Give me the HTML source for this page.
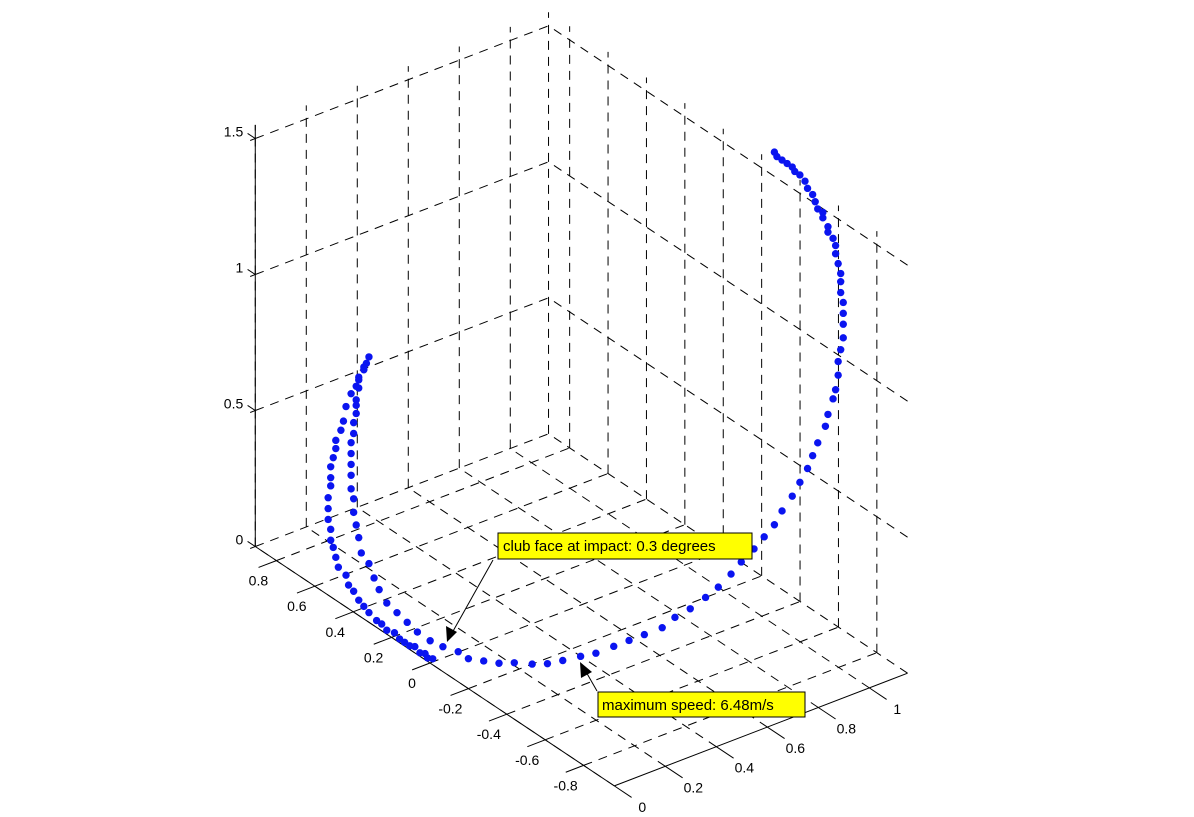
<!DOCTYPE html>
<html><head><meta charset="utf-8"><style>
html,body{margin:0;padding:0;background:#fff;}
svg{display:block;}
text{font-family:"Liberation Sans",Arial,sans-serif;font-size:14px;fill:#000;}
</style></head><body>
<svg id="chart" width="1194" height="817" viewBox="0 0 1194 817" xmlns="http://www.w3.org/2000/svg">
<rect x="0" y="0" width="1194" height="817" fill="#fff"/>
<g id="grid"></g>
<g id="axes"></g>
<g id="marks"></g>
<g id="annot">
  <line x1="493" y1="560" x2="452" y2="633" stroke="#000" stroke-width="1"/>
  <polygon points="447,642 446,626 457,632" fill="#000"/>
  <rect x="498" y="533" width="254" height="26" fill="#ffff00" stroke="#000" stroke-width="1"/>
  <text x="503" y="551" style="font-size:15px">club face at impact: 0.3 degrees</text>
  <line x1="597" y1="691" x2="585" y2="670" stroke="#000" stroke-width="1"/>
  <polygon points="580,662 581,678 592,672" fill="#000"/>
  <rect x="598" y="692" width="207" height="25" fill="#ffff00" stroke="#000" stroke-width="1"/>
  <text x="602" y="710" style="font-size:15px">maximum speed: 6.48m/s</text>
</g>
</svg>
<script>
// data (metres)
const xs = [-0.14,-0.16,-0.17,-0.19,-0.21,-0.23,-0.25,-0.27,-0.29,-0.32,-0.34,-0.36,-0.39,-0.41,-0.43,-0.45,-0.47,-0.48,-0.51,-0.52,-0.53,-0.54,-0.54,-0.55,-0.55,-0.55,-0.54,-0.54,-0.54,-0.53,-0.52,-0.52,-0.50,-0.49,-0.48,-0.46,-0.44,-0.43,-0.41,-0.39,
 -0.40,-0.41,-0.43,-0.43,-0.44,-0.44,-0.44,-0.45,-0.45,-0.46,-0.46,-0.46,-0.46,-0.46,-0.45,-0.45,-0.44,-0.43,-0.42,-0.39,-0.37,-0.35,-0.32,-0.28,-0.24,-0.20,-0.15,-0.10,-0.04,
 0.00,0.06,0.12,0.18,0.25,0.31,0.37,0.44,0.50,0.57,0.63,0.69,0.76,0.81,0.87,0.93,0.98,1.03,1.07,1.12,1.16,1.20,1.23,1.27,1.30,1.33,1.35,1.37,1.40,1.41,1.43,1.44,1.45,1.45,1.46,1.47,1.47,1.47,1.47,1.46,1.46,1.46,1.45,1.44,1.44,1.43,1.41,1.41,1.39,1.39,1.37,1.36,1.35,1.33,1.32,1.30,1.28,1.27,1.25,1.23,1.21,1.20];
const zs = [0.16,0.17,0.19,0.20,0.23,0.24,0.26,0.28,0.31,0.33,0.36,0.38,0.42,0.45,0.48,0.52,0.55,0.59,0.63,0.67,0.71,0.74,0.78,0.82,0.86,0.90,0.94,0.97,1.01,1.04,1.07,1.10,1.13,1.16,1.21,1.25,1.27,1.29,1.32,1.36,
 1.34,1.33,1.30,1.26,1.22,1.20,1.17,1.14,1.10,1.07,1.03,0.99,0.95,0.90,0.86,0.81,0.76,0.71,0.65,0.60,0.54,0.49,0.43,0.38,0.33,0.28,0.23,0.19,0.15,
 0.11,0.08,0.05,0.03,0.00,-0.02,-0.03,-0.04,-0.05,-0.05,-0.05,-0.05,-0.05,-0.03,-0.02,0.00,0.02,0.05,0.08,0.11,0.14,0.17,0.21,0.25,0.29,0.33,0.37,0.41,0.46,0.50,0.55,0.58,0.63,0.68,0.72,0.76,0.81,0.85,0.89,0.93,0.97,1.00,1.04,1.08,1.11,1.14,1.17,1.19,1.23,1.25,1.27,1.30,1.33,1.36,1.39,1.42,1.44,1.46,1.48,1.50,1.52,1.54];
const ys = xs.map(() => -0.2);
const xTicks = [0,0.2,0.4,0.6,0.8,1];
const xTickLabels = ["0","0.2","0.4","0.6","0.8","1"];
const yTicks = [-0.8,-0.6,-0.4,-0.2,0,0.2,0.4,0.6,0.8];
const yTickLabels = ["-0.8","-0.6","-0.4","-0.2","0","0.2","0.4","0.6","0.8"];
const zTicks = [0,0.5,1,1.5];
const zTickLabels = ["0","0.5","1","1.5"];

const XMIN=0, XMAX=1.15, YMIN=-0.96, YMAX=0.91, ZMIN=0, ZMAX=1.55;
const O=[430,663], EX=[255,-98], EY=[-192,-128], EZ=[0,-272];
function px(x,y,z){return O[0]+x*EX[0]+y*EY[0]+z*EZ[0];}
function py(x,y,z){return O[1]+x*EX[1]+y*EY[1]+z*EZ[1];}
const NS="http://www.w3.org/2000/svg";
function seg(parent,a,b,dash,name){
  const l=document.createElementNS(NS,'line');
  l.setAttribute('x1',px(...a));l.setAttribute('y1',py(...a));
  l.setAttribute('x2',px(...b));l.setAttribute('y2',py(...b));
  l.setAttribute('stroke','#000');
  l.setAttribute('stroke-width','1');
  if(dash) l.setAttribute('stroke-dasharray','9,7');
  
  
  parent.appendChild(l);
}
const grid=document.getElementById('grid');
xTicks.forEach(x=>{
  seg(grid,[x,YMIN,0],[x,YMAX,0],true,'floor-gridline-x');
  seg(grid,[x,YMAX,0],[x,YMAX,ZMAX],true,'wall-gridline-x');
});
yTicks.forEach(y=>{
  seg(grid,[0,y,0],[XMAX,y,0],true,'floor-gridline-y');
  seg(grid,[XMAX,y,0],[XMAX,y,ZMAX],true,'wall-gridline-y');
});
seg(grid,[XMAX,YMAX,0],[XMAX,YMAX,ZMAX],true,'wall-corner-line');
zTicks.forEach(z=>{
  seg(grid,[0,YMAX,z],[XMAX,YMAX,z],true,'back-wall-gridline-z');
  seg(grid,[XMAX,YMIN,z],[XMAX,YMAX,z],true,'right-wall-gridline-z');
});
const axes=document.getElementById('axes');
seg(axes,[0,YMAX,0],[0,YMAX,ZMAX],false,'z-axis-line');
seg(axes,[0,YMIN,0],[0,YMAX,0],false,'y-axis-line');
seg(axes,[0,YMIN,0],[XMAX,YMIN,0],false,'x-axis-line');
function label(parent,x,y,txt,anchor,name){
  const t=document.createElementNS(NS,'text');
  t.setAttribute('x',x);t.setAttribute('y',y);
  t.setAttribute('text-anchor',anchor);
  t.textContent=txt;
  
  
  parent.appendChild(t);
}
yTicks.forEach((y,i)=>{
  seg(axes,[0,y,0],[-0.07,y,0],false,'y-tick');
  label(axes,px(0,y,0)-18,py(0,y,0)+25,yTickLabels[i],'middle','y-tick-label');
});
xTicks.forEach((x,i)=>{
  seg(axes,[x,YMIN,0],[x,YMIN-0.09,0],false,'x-tick');
  label(axes,px(x,YMIN,0)+28,py(x,YMIN,0)+26,xTickLabels[i],'middle','x-tick-label');
});
zTicks.forEach((z,i)=>{
  seg(axes,[0,YMAX,z],[-0.02,YMAX,z],false,'z-tick');
  seg(axes,[0,YMAX,z],[0,YMAX+0.04,z],false,'z-tick');
  label(axes,px(0,YMAX,z)-12,py(0,YMAX,z)-2,zTickLabels[i],'end','z-tick-label');
});
const marks=document.getElementById('marks');
xs.forEach((x,i)=>{
  const c=document.createElementNS(NS,'circle');
  c.setAttribute('cx',px(x,ys[i],zs[i]));
  c.setAttribute('cy',py(x,ys[i],zs[i]));
  c.setAttribute('r','3.7');
  c.setAttribute('fill','#0a14f0');
  
  
  marks.appendChild(c);
});
</script>
</body></html>
